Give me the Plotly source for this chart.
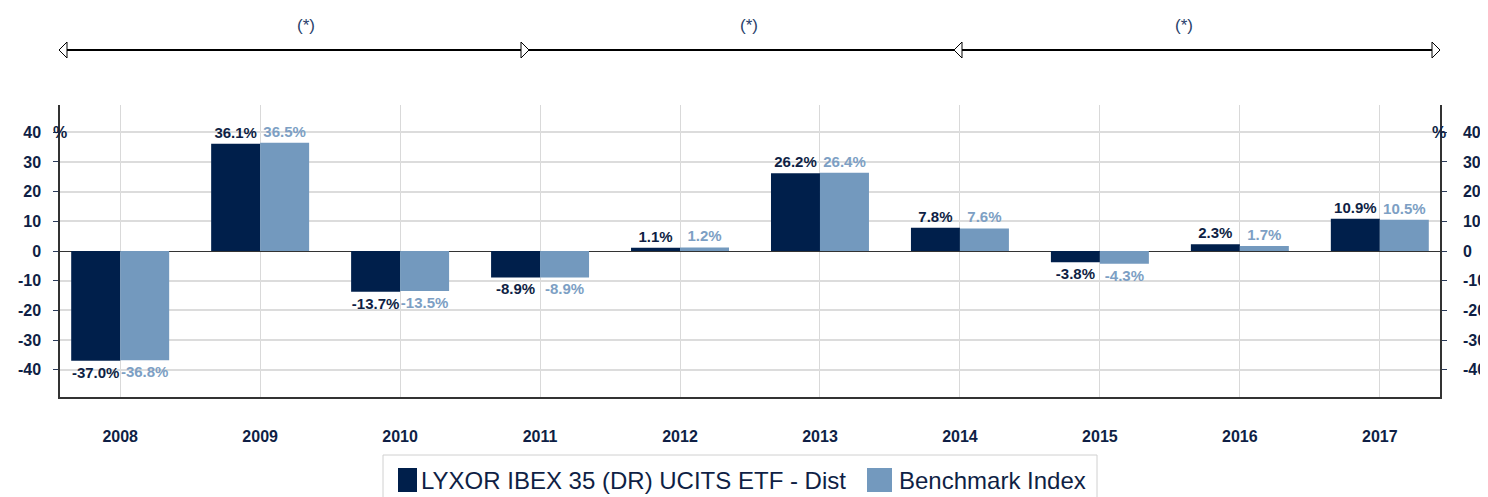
import plotly.graph_objects as go

years = ["2008", "2009", "2010", "2011", "2012", "2013", "2014", "2015", "2016", "2017"]
etf_values = [-37.0, 36.1, -13.7, -8.9, 1.1, 26.2, 7.8, -3.8, 2.3, 10.9]
bench_values = [-36.8, 36.5, -13.5, -8.9, 1.2, 26.4, 7.6, -4.3, 1.7, 10.5]
etf_name = "LYXOR IBEX 35 (DR) UCITS ETF - Dist"
bench_name = "Benchmark Index"
y_ticks = [-40, -30, -20, -10, 0, 10, 20, 30, 40]
period_labels = ["(*)", "(*)", "(*)"]

DARK = "#001f4b"
LIGHT = "#7399be"
LIGHT_TXT = "#7d9fc4"
NAVY_TXT = "#0f1f45"
FONT = "Liberation Sans, Arial, sans-serif"

# page has an 8px body margin: figure coordinates = screen coordinates - 8
OFF = 8
W, H = 1488 - OFF, 497 - OFF
# target screen plot box: x 60..1440, y 105..397
ML = 60 - OFF
MT = 105 - OFF
MR = W - (1440 - OFF)
MB = H - (397 - OFF)
PW = W - ML - MR
PH = H - MT - MB

def px_x(sx):
    return (sx - OFF - ML) / PW

def px_y(sy):
    return (H - MB - (sy - OFF)) / PH

BOLD16 = dict(family=FONT, size=16, color=NAVY_TXT, weight="bold")

fig = go.Figure()
fig.add_trace(go.Bar(
    x=years, y=etf_values, name=etf_name, marker=dict(color=DARK, line=dict(width=0)),
    text=[f"{v:.1f}%" for v in etf_values], textposition="outside",
    textfont=dict(family=FONT, size=15, color=NAVY_TXT, weight="bold"), cliponaxis=False,
    showlegend=False,
))
fig.add_trace(go.Bar(
    x=years, y=bench_values, name=bench_name, marker=dict(color=LIGHT, line=dict(width=0)),
    text=[f"{v:.1f}%" for v in bench_values], textposition="outside",
    textfont=dict(family=FONT, size=15, color=LIGHT_TXT, weight="bold"), cliponaxis=False,
    showlegend=False,
))
# invisible trace to anchor the right axis
fig.add_trace(go.Scatter(x=[years[0]], y=[0], yaxis="y2", mode="markers",
                         marker=dict(opacity=0), showlegend=False, hoverinfo="skip"))

yr = [-49.2, 49.2]
fig.update_layout(
    width=W, height=H,
    margin=dict(l=ML, r=MR, t=MT, b=MB, autoexpand=False),
    paper_bgcolor="white", plot_bgcolor="white",
    barmode="group", bargap=0.3, bargroupgap=0,
    font=dict(family=FONT, color=NAVY_TXT),
    xaxis=dict(
        type="category", range=[-0.43, 9.43], automargin=False,
        showgrid=True, gridcolor="#d9d9d9", gridwidth=1,
        showline=True, linecolor="#333333", linewidth=1.5,
        ticks="", tickfont=BOLD16,
        ticklabelstandoff=24,
    ),
    yaxis=dict(
        range=yr, tickvals=y_ticks, ticktext=[str(v) for v in y_ticks], automargin=False,
        showgrid=True, gridcolor="#dcdcdc", gridwidth=1.5,
        zeroline=True, zerolinecolor="#333333", zerolinewidth=1.2,
        showline=True, linecolor="#333333", linewidth=1.5,
        ticks="outside", ticklen=5, tickcolor="#2a3a5a",
        tickfont=BOLD16,
        ticklabelstandoff=9,
    ),
    yaxis2=dict(
        overlaying="y", side="right", range=yr, tickvals=y_ticks, automargin=False,
        ticktext=[str(v) for v in y_ticks], showgrid=False, zeroline=False,
        showline=True, linecolor="#333333", linewidth=1.5,
        ticks="outside", ticklen=5, tickcolor="#2a3a5a",
        tickfont=BOLD16,
        ticklabelstandoff=13,
    ),
)

shapes = []
annotations = []

# percent signs
annotations.append(dict(text="%", xref="paper", yref="y", x=px_x(51), y=40,
                        showarrow=False, font=BOLD16, yanchor="middle"))
annotations.append(dict(text="%", xref="paper", yref="y", x=px_x(1448), y=40,
                        showarrow=False, font=BOLD16, yanchor="middle"))

# period arrows
ay = px_y(50)
shapes.append(dict(type="line", xref="paper", yref="paper", x0=px_x(62), x1=px_x(1436),
                   y0=ay, y1=ay, line=dict(color="black", width=2.2)))
hw = 8 / PW
hh = 8 / PH

def head(tip_px, direction):
    tx = px_x(tip_px)
    bx = tx - direction * hw
    return dict(type="path", xref="paper", yref="paper",
                path=f"M {tx} {ay} L {bx} {ay + hh} L {bx} {ay - hh} Z",
                fillcolor="white", line=dict(color="black", width=1))

shapes.append(head(59, -1))
shapes.append(head(529, 1))
shapes.append(head(954, -1))
shapes.append(head(1440, 1))

for lbl, px in zip(period_labels, [295, 749, 1195]):
    annotations.append(dict(text=lbl, xref="paper", yref="paper", x=px_x(px), y=px_y(25),
                            showarrow=False, yanchor="middle",
                            font=dict(family=FONT, size=17, color="#2a3f6b")))

# custom legend
ly = px_y(480)
shapes.append(dict(type="rect", xref="paper", yref="paper", x0=px_x(383), x1=px_x(1097),
                   y0=px_y(505), y1=px_y(455), line=dict(color="#d0d0d0", width=1),
                   fillcolor="rgba(0,0,0,0)"))
shapes.append(dict(type="rect", xref="paper", yref="paper", x0=px_x(398), x1=px_x(417),
                   y0=px_y(492), y1=px_y(468), line=dict(width=0), fillcolor=DARK))
annotations.append(dict(text=etf_name, xref="paper", yref="paper", x=px_x(419), y=ly,
                        xanchor="left", yanchor="middle", showarrow=False,
                        font=dict(family=FONT, size=24, color=NAVY_TXT)))
shapes.append(dict(type="rect", xref="paper", yref="paper", x0=px_x(867), x1=px_x(892),
                   y0=px_y(492), y1=px_y(468), line=dict(width=0), fillcolor=LIGHT))
annotations.append(dict(text=bench_name, xref="paper", yref="paper", x=px_x(897), y=ly,
                        xanchor="left", yanchor="middle", showarrow=False,
                        font=dict(family=FONT, size=24, color=NAVY_TXT)))

fig.update_layout(shapes=shapes, annotations=annotations)
fig.write_html("out.html")
